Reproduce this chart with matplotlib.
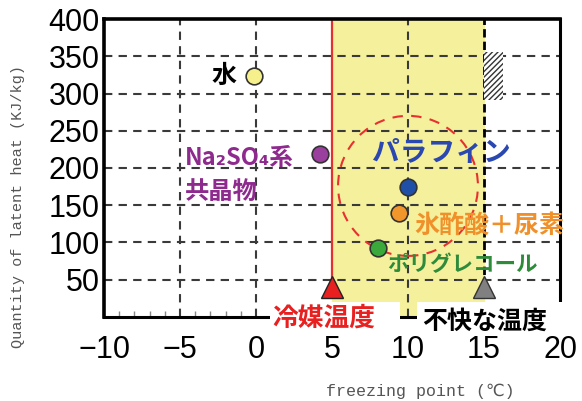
import matplotlib.pyplot as plt
from matplotlib.patches import Rectangle, Ellipse
import numpy as np

plt.rcParams['font.family'] = ['Liberation Sans', 'Noto Sans CJK JP', 'DejaVu Sans']

# materials: freezing point (C), latent heat (kJ/kg)
names = ['水', 'Na₂SO₄系', 'パラフィン', '氷酢酸＋尿素', 'ポリグレコール']
freeze = [-0.1, 4.2, 10.0, 9.4, 8.0]
latent = [323, 219, 174, 140, 93]
marker_colors = ['#f6f08c', '#9a3f9e', '#1f4fa6', '#f0962a', '#3aa83a']
text_colors = ['black', '#8e2a8e', '#2a48b0', '#f0902a', '#2e8b3a']

xticks = [-10, -5, 0, 5, 10, 15, 20]
yticks = [50, 100, 150, 200, 250, 300, 350, 400]

refrigerant_temp = 5     # 冷媒温度
discomfort_temp = 15     # 不快な温度

fig = plt.figure(figsize=(5.82, 4.01), dpi=100)
ax = fig.add_axes([0.1787, 0.2095, 0.7835, 0.7431])
ax.set_xlim(-10, 20)
ax.set_ylim(0, 400)

# comfortable band
ax.axvspan(refrigerant_temp, discomfort_temp, color='#f5f09c', zorder=0)

# grid
for x in [-5, 0, 10]:
    ax.axvline(x, color='#3a3a3a', lw=1.5, ls=(0, (4, 3)), zorder=1)
for y in yticks[:-1]:
    ax.axhline(y, color='#3a3a3a', lw=1.5, ls=(0, (4, 3)), zorder=1)

ax.plot([refrigerant_temp, refrigerant_temp], [40, 400], color='#e8302a', lw=1.6, zorder=2)
ax.plot([discomfort_temp, discomfort_temp], [40, 400], color='black', lw=2, ls=(0, (3, 1.5)), zorder=2)

ax.add_patch(Rectangle((15, 291), 1.25, 65, facecolor='white', edgecolor='#333333',
                       hatch='//////', lw=0, zorder=2))

# paraffin group circle
ax.add_patch(Ellipse((10.0, 176), 9.2, 188, fill=False, edgecolor='#e83030', lw=1.5,
                     ls=(0, (5, 4)), zorder=3))

for xv, yv, c in zip(freeze, latent, marker_colors):
    ax.plot(xv, yv, 'o', ms=12, mfc=c, mec='#333333', mew=1.2, zorder=5)

jp = ['Noto Sans CJK JP', 'DejaVu Sans']
ax.text(-2.1, 323, names[0], color=text_colors[0], fontsize=18, fontweight='bold',
        family=jp, ha='center', va='center', zorder=6)
ax.text(-4.7, 213, names[1], color=text_colors[1], fontsize=17, fontweight='bold',
        family=jp, ha='left', va='center', zorder=6)
ax.text(-4.7, 168, '共晶物', color=text_colors[1], fontsize=17.5, fontweight='bold',
        family=jp, ha='left', va='center', zorder=6)
ax.text(12.2, 220, names[2], color=text_colors[2], fontsize=20, fontweight='bold',
        family=jp, ha='center', va='center', zorder=6)
ax.text(10.45, 123, names[3], color=text_colors[3], fontsize=18, fontweight='bold',
        family=jp, ha='left', va='center', zorder=6)
ax.text(8.6, 70, names[4], color=text_colors[4], fontsize=15.5, fontweight='bold',
        family=jp, ha='left', va='center', zorder=6)

# white label boxes at the bottom
ax.add_patch(Rectangle((0.9, -26), 8.55, 46, facecolor='white', edgecolor='none',
                       clip_on=False, zorder=4))
ax.add_patch(Rectangle((10.6, -26), 10.2, 46, facecolor='white', edgecolor='none',
                       clip_on=False, zorder=4))

ax.plot(refrigerant_temp, 40, '^', ms=16, mfc='#e82020', mec='#222222', mew=1, zorder=6, clip_on=False)
ax.plot(discomfort_temp, 40, '^', ms=16, mfc='#808080', mec='#333333', mew=1, zorder=6, clip_on=False)

ax.text(1.1, -2, '冷媒温度', color='#e82020', fontsize=18.5, fontweight='bold',
        family=jp, ha='left', va='center', zorder=7, clip_on=False)
ax.text(10.9, -7, '不快な温度', color='black', fontsize=18, fontweight='bold',
        family=jp, ha='left', va='center', zorder=7, clip_on=False)

# axes styling
for s in ['left', 'top']:
    ax.spines[s].set_linewidth(2.6)
for s in ['right', 'bottom']:
    ax.spines[s].set_linewidth(2.2)
ax.set_xticks(xticks)
ax.set_xticklabels([str(v) if v >= 0 else '−' + str(-v) for v in xticks])
ax.set_yticks(yticks)
ax.set_xticks(np.arange(-10, 21), minor=True)
ax.tick_params(axis='x', which='major', length=0, pad=13, labelsize=22)
ax.tick_params(axis='y', which='major', length=0, pad=3, labelsize=22)
ax.tick_params(axis='x', which='minor', direction='in', length=4, width=1, color='#888888')

fig.text(0.031, 0.485, 'Quantity of latent heat (KJ/kg)', rotation=90, ha='center', va='center',
         fontsize=11, color='#555555', family=['Liberation Mono', 'DejaVu Sans'])
fig.text(0.722, 0.025, 'freezing point (℃)', ha='center', va='center',
         fontsize=12, color='#555555', family=['Liberation Mono', 'DejaVu Sans'])

fig.savefig('out.png', dpi=100)
